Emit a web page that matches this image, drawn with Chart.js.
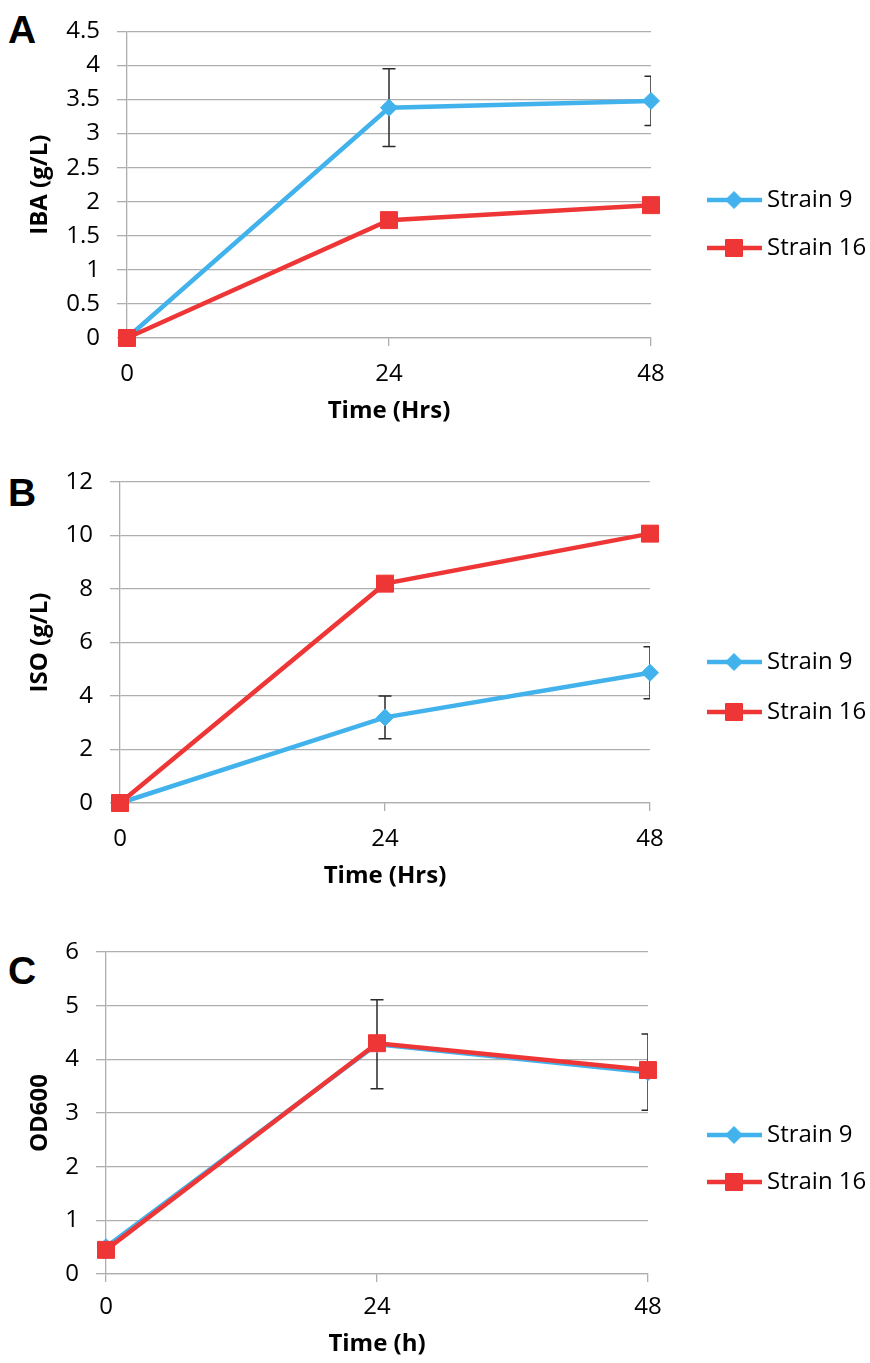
<!DOCTYPE html>
<html>
<head>
<meta charset="utf-8">
<script src="https://cdn.jsdelivr.net/npm/chart.js@4.4.1/dist/chart.umd.min.js"></script>
<style>
  body { margin: 0; background: #fff; }
  #page { position: relative; width: 870px; height: 1363px; overflow: hidden; }
  canvas { position: absolute; left: 0; }
  .letter { position: absolute; left: 8px; font: bold 39px "Liberation Sans", Arial, sans-serif; line-height: 1; color: #000; }
</style>
</head>
<body>
<div id="page">
  <div class="letter" style="top:10px">A</div>
  <div class="letter" style="top:473px">B</div>
  <div class="letter" style="top:951px">C</div>
  <canvas id="panelA" width="870" height="440" style="top:0px"></canvas>
  <canvas id="panelB" width="870" height="455" style="top:450px"></canvas>
  <canvas id="panelC" width="870" height="443" style="top:920px"></canvas>
</div>
<script>
// values
const hours = [0, 24, 48];
const seriesNames = ['Strain 9', 'Strain 16'];

const ibaStrain9 = [0, 3.38, 3.48];
const ibaStrain9Err = [0, 0.57, 0.36];
const ibaStrain16 = [0, 1.73, 1.95];
const ibaStrain16Err = [0, 0.04, 0.05];

const isoStrain9 = [0, 3.2, 4.87];
const isoStrain9Err = [0, 0.8, 0.97];
const isoStrain16 = [0, 8.2, 10.07];
const isoStrain16Err = [0, 0.12, 0.15];

const odStrain9 = [0.5, 4.28, 3.76];
const odStrain9Err = [0, 0.83, 0.71];
const odStrain16 = [0.45, 4.3, 3.8];
const odStrain16Err = [0, 0.05, 0.05];

const hourTicks = [0, 24, 48];
const ibaTicks = [0, 0.5, 1, 1.5, 2, 2.5, 3, 3.5, 4, 4.5];
const isoTicks = [0, 2, 4, 6, 8, 10, 12];
const odTicks = [0, 1, 2, 3, 4, 5, 6];

const blue = '#41b2ec';
const red = '#ee3636';
const gridColor = '#aeaeae';
const fontFamily = '"Open Sans", sans-serif';

Chart.defaults.font.family = fontFamily;
Chart.defaults.color = '#000';

// error bars, clipped at the right edge of the plot like the original
const errorBars = {
    id: 'errorBars',
    beforeDatasetsDraw(chart) {
        const {ctx, chartArea, scales: {y}} = chart;
        ctx.save();
        ctx.beginPath();
        ctx.rect(chartArea.left - 20, chartArea.top - 20, chartArea.right - chartArea.left + 20, chartArea.bottom - chartArea.top + 40);
        ctx.clip();
        ctx.strokeStyle = '#2a2a2a';
        ctx.lineWidth = 1.5;
        chart.data.datasets.forEach((ds, i) => {
            const meta = chart.getDatasetMeta(i);
            (ds.errors || []).forEach((err, j) => {
                if (!err) return;
                const x = meta.data[j].x;
                const top = y.getPixelForValue(ds.data[j] + err);
                const bot = y.getPixelForValue(ds.data[j] - err);
                ctx.beginPath();
                ctx.moveTo(x, top); ctx.lineTo(x, bot);
                ctx.moveTo(x - 6.5, top); ctx.lineTo(x + 6.5, top);
                ctx.moveTo(x - 6.5, bot); ctx.lineTo(x + 6.5, bot);
                ctx.stroke();
            });
        });
        ctx.restore();
    }
};

// legend with a short line through the marker, as in the figure
const lineLegend = {
    id: 'lineLegend',
    afterDraw(chart, args, opts) {
        const {ctx} = chart;
        ctx.save();
        chart.data.datasets.forEach((ds, i) => {
            const yy = opts.rows[i];
            ctx.strokeStyle = ds.borderColor;
            ctx.fillStyle = ds.backgroundColor;
            ctx.lineWidth = ds.borderWidth;
            ctx.beginPath();
            ctx.moveTo(opts.x, yy);
            ctx.lineTo(opts.x + 55, yy);
            ctx.stroke();
            ctx.lineWidth = 1;
            Chart.helpers.drawPoint(ctx, {pointStyle: ds.pointStyle, radius: ds.pointRadius, rotation: 0, borderWidth: 1}, opts.x + 27, yy);
            ctx.fillStyle = '#000';
            ctx.font = '24px ' + fontFamily;
            ctx.textBaseline = 'middle';
            ctx.fillText(ds.label, opts.x + 60, yy);
        });
        ctx.restore();
    }
};

function makeSeries(label, values, errors, color, style, radius, order) {
    return {
        label: label,
        data: values,
        errors: errors,
        order: order,
        clip: false,
        borderColor: color,
        backgroundColor: color,
        borderWidth: 4.5,
        tension: 0,
        pointStyle: style,
        pointRadius: radius,
        pointBorderWidth: 1,
        pointBorderColor: color,
        pointBackgroundColor: color
    };
}

function makePanel(id, box, yTitle, xTitle, yTicks, s9, s9Err, s16, s16Err) {
    const ctx = document.getElementById(id).getContext('2d');
    const xAxisHeight = 88;
    return new Chart(ctx, {
        type: 'line',
        data: {
            labels: hours,
            datasets: [
                // strain 16 is drawn on top (lower order)
                makeSeries(seriesNames[0], s9, s9Err, blue, 'rectRot', 8.5, 1),
                makeSeries(seriesNames[1], s16, s16Err, red, 'rect', 12, 0)
            ]
        },
        options: {
            responsive: false,
            animation: false,
            events: [],
            layout: {
                padding: {
                    left: 0,
                    top: box.plotTop - box.canvasTop,
                    right: 870 - box.plotRight,
                    bottom: box.canvasTop + box.canvasHeight - box.plotBottom - xAxisHeight
                }
            },
            plugins: {
                legend: { display: false },
                tooltip: { enabled: false },
                lineLegend: { x: 707, rows: box.legendRows.map(r => r - box.canvasTop) }
            },
            scales: {
                x: {
                    type: 'linear',
                    min: hourTicks[0],
                    max: hourTicks[hourTicks.length - 1],
                    afterBuildTicks: s => { s.ticks = hourTicks.map(v => ({value: v})); },
                    afterFit: s => { s.height = xAxisHeight; },
                    ticks: { font: { size: 24 }, padding: box.tickPad, callback: v => String(v) },
                    grid: { drawOnChartArea: false, tickLength: 8, color: gridColor, lineWidth: 1.3 },
                    border: { color: gridColor, width: 1.3 },
                    title: { display: true, text: xTitle, font: { size: 24, weight: 'bold' }, padding: { top: 0, bottom: box.titlePad } }
                },
                y: {
                    min: yTicks[0],
                    max: yTicks[yTicks.length - 1],
                    afterBuildTicks: s => { s.ticks = yTicks.map(v => ({value: v})); },
                    afterFit: s => { s.width = box.plotLeft; },
                    ticks: { font: { size: 24 }, padding: 17, callback: v => String(v) },
                    grid: { tickLength: 10, color: gridColor, lineWidth: 1.3 },
                    border: { color: gridColor, width: 1.3 },
                    title: { display: true, text: yTitle, font: { size: 24, weight: 'bold' }, padding: { top: 26, bottom: 0 } }
                }
            }
        },
        plugins: [errorBars, lineLegend]
    });
}

makePanel('panelA',
    {canvasTop: 0, canvasHeight: 440, plotLeft: 127, plotRight: 651, plotTop: 19, plotBottom: 338, tickPad: 14, titlePad: 0, legendRows: [200, 248]},
    'IBA (g/L)', 'Time (Hrs)', ibaTicks, ibaStrain9, ibaStrain9Err, ibaStrain16, ibaStrain16Err);

makePanel('panelB',
    {canvasTop: 450, canvasHeight: 455, plotLeft: 120, plotRight: 650, plotTop: 482, plotBottom: 803, tickPad: 14, titlePad: 0, legendRows: [662, 712]},
    'ISO (g/L)', 'Time (Hrs)', isoTicks, isoStrain9, isoStrain9Err, isoStrain16, isoStrain16Err);

makePanel('panelC',
    {canvasTop: 920, canvasHeight: 443, plotLeft: 106, plotRight: 648, plotTop: 952, plotBottom: 1274, tickPad: 11, titlePad: 3, legendRows: [1135, 1182]},
    'OD600', 'Time (h)', odTicks, odStrain9, odStrain9Err, odStrain16, odStrain16Err);
</script>
</body>
</html>
